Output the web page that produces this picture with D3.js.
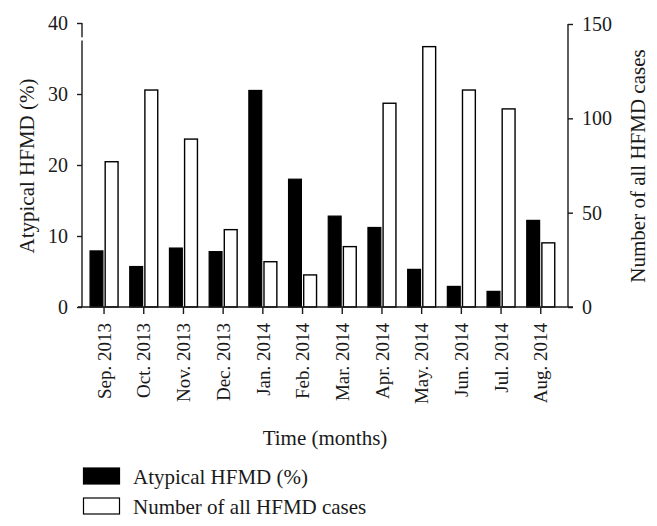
<!DOCTYPE html>
<html>
<head>
<meta charset="utf-8">
<script src="https://cdn.jsdelivr.net/npm/d3@7"></script>
<style>
  html, body { margin: 0; padding: 0; background: #fff; }
  svg { display: block; font-family: "Liberation Serif", "DejaVu Serif", serif; }
</style>
</head>
<body>
<svg id="chart" width="657" height="526"></svg>
<script>
const months = ["Sep. 2013", "Oct. 2013", "Nov. 2013", "Dec. 2013", "Jan. 2014", "Feb. 2014",
                "Mar. 2014", "Apr. 2014", "May. 2014", "Jun. 2014", "Jul. 2014", "Aug. 2014"];
const atypicalPct = [7.9, 5.7, 8.3, 7.8, 30.5, 18.0, 12.8, 11.2, 5.3, 2.9, 2.2, 12.2];
const allCases = [77, 115, 89, 41, 24, 17, 32, 108, 138, 115, 105, 34];
const leftTicks = [0, 10, 20, 30, 40];
const rightTicks = [0, 50, 100, 150];
const seriesNames = ["Atypical HFMD (%)", "Number of all HFMD cases"];

const svg = d3.select("#chart");
const ink = "#1a1a1a";

const plotLeft = 82, plotRight = 568, plotTop = 23, plotBottom = 307;

const x = d3.scaleBand().domain(months).range([84.2, 560.6]).paddingInner(0.295).paddingOuter(0.1475);
const xs = d3.scaleBand().domain(seriesNames).range([0, x.bandwidth()]).paddingInner(0.15);
const yL = d3.scaleLinear().domain([0, 40]).range([plotBottom, plotTop]);
const yR = d3.scaleLinear().domain([0, 150]).range([plotBottom, plotTop + 1]);

// Bars
const g = svg.append("g");
g.selectAll("rect.atyp").data(months).join("rect")
  .attr("x", (d) => x(d) + xs(seriesNames[0]))
  .attr("y", (d, i) => yL(atypicalPct[i]))
  .attr("width", xs.bandwidth())
  .attr("height", (d, i) => yL(0) - yL(atypicalPct[i]))
  .attr("fill", "#000").attr("stroke", "#000").attr("stroke-width", 1.2);
g.selectAll("rect.all").data(months).join("rect")
  .attr("x", (d) => x(d) + xs(seriesNames[1]))
  .attr("y", (d, i) => yR(allCases[i]))
  .attr("width", xs.bandwidth())
  .attr("height", (d, i) => yR(0) - yR(allCases[i]))
  .attr("fill", "#fff").attr("stroke", "#000").attr("stroke-width", 1.4);

// Left axis
const axL = svg.append("g").attr("transform", `translate(${plotLeft},0)`)
  .call(d3.axisLeft(yL).tickValues(leftTicks).tickSize(5).tickPadding(9));
axL.select(".domain").remove();
axL.append("line").attr("x1", 0).attr("x2", 0).attr("y1", yL(40)).attr("y2", yL(38.0));
axL.append("line").attr("x1", 0).attr("x2", 0).attr("y1", yL(37.55)).attr("y2", yL(0));
axL.selectAll("line").attr("stroke", ink).attr("stroke-width", 1.4);
axL.selectAll("text").attr("font-size", 20).attr("fill", ink).attr("font-family", "Liberation Serif");

// Right axis
const axR = svg.append("g").attr("transform", `translate(${plotRight},0)`)
  .call(d3.axisRight(yR).tickValues(rightTicks).tickSize(5).tickPadding(9));
axR.select(".domain").attr("d", `M0,${yR(150)}V${yR(0)}`).attr("stroke", ink).attr("stroke-width", 1.4);
axR.selectAll("line").attr("stroke", ink).attr("stroke-width", 1.4);
axR.selectAll("text").attr("font-size", 20).attr("fill", ink).attr("font-family", "Liberation Serif");

// Bottom axis
const axB = svg.append("g").attr("transform", `translate(0,${plotBottom})`)
  .call(d3.axisBottom(x).tickSize(7).tickPadding(8));
axB.select(".domain").attr("d", `M${plotLeft - 4},0H${plotRight + 5}`).attr("stroke", ink).attr("stroke-width", 1.4);
axB.selectAll("line").attr("stroke", ink).attr("stroke-width", 1.4);
axB.selectAll("text")
  .attr("font-size", 19).attr("fill", ink).attr("font-family", "Liberation Serif")
  .attr("transform", "rotate(-90)")
  .attr("text-anchor", "end")
  .attr("x", -16).attr("y", 0).attr("dy", "0.35em");

// Axis titles
svg.append("text")
  .attr("transform", `translate(34,166) rotate(-90)`)
  .attr("text-anchor", "middle").attr("font-size", 21).attr("fill", ink)
  .text("Atypical HFMD (%)");
svg.append("text")
  .attr("transform", `translate(645,166) rotate(-90)`)
  .attr("text-anchor", "middle").attr("font-size", 21).attr("fill", ink)
  .text("Number of all HFMD cases");
svg.append("text")
  .attr("x", (plotLeft + plotRight) / 2).attr("y", 445)
  .attr("text-anchor", "middle").attr("font-size", 21).attr("fill", ink)
  .text("Time (months)");

// Legend
const leg = svg.append("g");
const legY = [468, 498];
leg.selectAll("rect").data(seriesNames).join("rect")
  .attr("x", 83.5).attr("y", (d, i) => legY[i]).attr("width", 36).attr("height", 16)
  .attr("fill", (d, i) => i === 0 ? "#000" : "#fff")
  .attr("stroke", "#000").attr("stroke-width", 1.2);
leg.selectAll("text").data(seriesNames).join("text")
  .attr("x", 133).attr("y", (d, i) => legY[i] + 16)
  .attr("font-size", 21).attr("fill", ink)
  .text((d) => d);
</script>
</body>
</html>
